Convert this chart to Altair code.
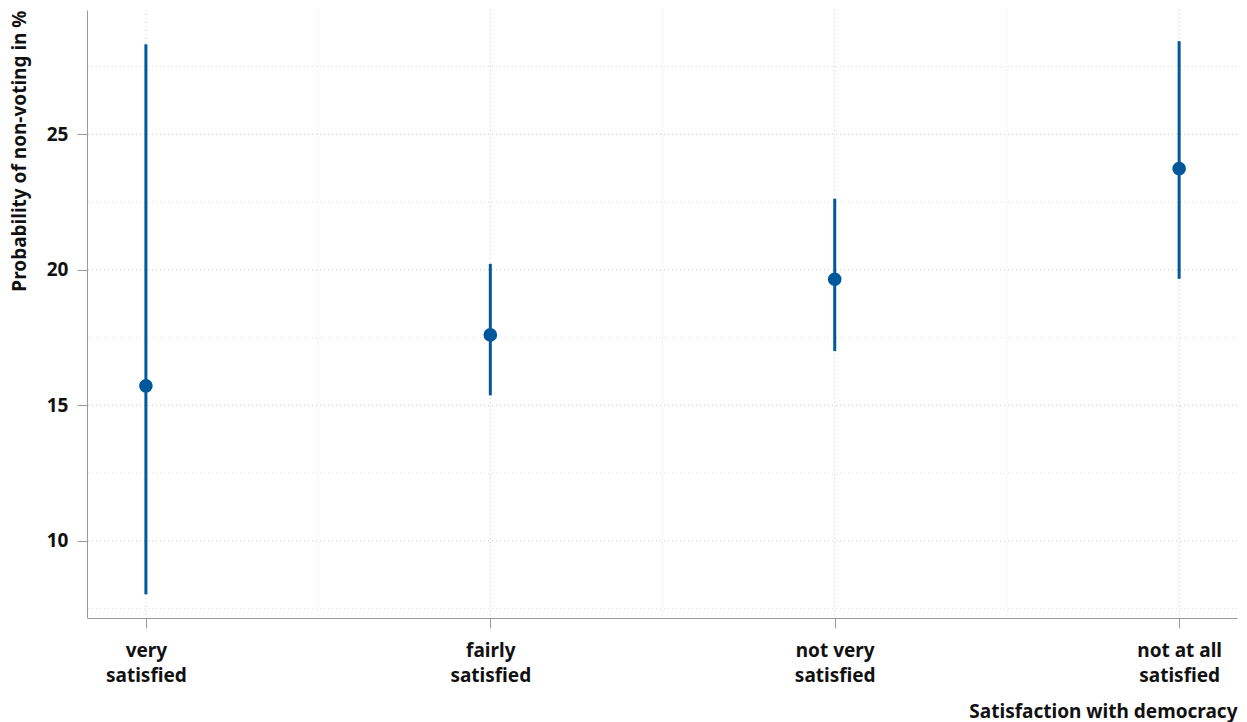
import altair as alt
import pandas as pd

categories = ["very satisfied", "fairly satisfied", "not very satisfied", "not at all satisfied"]
positions = [1, 2, 3, 4]
estimate = [15.72, 17.60, 19.65, 23.73]
lower = [8.04, 15.37, 17.00, 19.67]
upper = [28.32, 20.22, 22.62, 28.43]

y_major = [10, 15, 20, 25]
y_minor = [7.5, 12.5, 17.5, 22.5, 27.5]
x_minor = [1.5, 2.5, 3.5]

df = pd.DataFrame({"cat": categories, "x": positions, "est": estimate, "lo": lower, "hi": upper})

XD = [0.829, 4.168]
YD = [7.16, 29.58]
FONT = "Noto Sans"
BLUE = "#00589c"

xs = alt.Scale(domain=XD, nice=False, zero=False)
ys = alt.Scale(domain=YD, nice=False, zero=False)

label_expr = ("datum.value == 1 ? ['very','satisfied'] : datum.value == 2 ? ['fairly','satisfied'] : "
              "datum.value == 3 ? ['not very','satisfied'] : ['not at all','satisfied']")

hgrid_major = alt.Chart(pd.DataFrame({"y": y_major})).mark_rule(
    color="#c8c8c8", strokeDash=[1, 3], strokeWidth=1
).encode(y=alt.Y("y:Q", scale=ys))
hgrid_minor = alt.Chart(pd.DataFrame({"y": y_minor})).mark_rule(
    color="#dddddd", strokeDash=[1, 3], strokeWidth=1
).encode(y=alt.Y("y:Q", scale=ys))
vgrid_major = alt.Chart(pd.DataFrame({"x": positions})).mark_rule(
    color="#c8c8c8", strokeDash=[1, 3], strokeWidth=1
).encode(x=alt.X("x:Q", scale=xs))
vgrid_minor = alt.Chart(pd.DataFrame({"x": x_minor})).mark_rule(
    color="#dddddd", strokeDash=[1, 3], strokeWidth=1
).encode(x=alt.X("x:Q", scale=xs))

base = alt.Chart(df)

rules = base.mark_rule(color=BLUE, strokeWidth=3).encode(
    x=alt.X("x:Q", scale=xs,
            axis=alt.Axis(values=positions, labelExpr=label_expr, title="Satisfaction with democracy",
                          titleAnchor="end", grid=False, tickSize=10, labelPadding=13,
                          labelLineHeight=25, titlePadding=17)),
    y=alt.Y("lo:Q", scale=ys,
            axis=alt.Axis(values=y_major, title="Probability of non-voting in %", titleAnchor="end",
                          grid=False, tickSize=10, labelPadding=9, titlePadding=17)),
    y2="hi:Q",
)
points = base.mark_circle(color=BLUE, size=185, opacity=1).encode(
    x=alt.X("x:Q", scale=xs),
    y=alt.Y("est:Q", scale=ys),
)

chart = alt.layer(hgrid_minor, vgrid_minor, hgrid_major, vgrid_major, rules, points).properties(
    width=1150, height=608,
    autosize=alt.AutoSizeParams(type="none"),
    padding={"left": 87, "top": 10, "right": 10, "bottom": 104},
).configure_view(stroke=None).configure_axis(
    domainColor="#999999", tickColor="#999999", labelFont=FONT, titleFont=FONT,
    labelFontSize=19, titleFontSize=19, labelFontWeight="bold", titleFontWeight="bold",
    labelColor="#111111", titleColor="#111111",
)

chart.save("out.html", embed_options={"renderer": "svg", "actions": False})
